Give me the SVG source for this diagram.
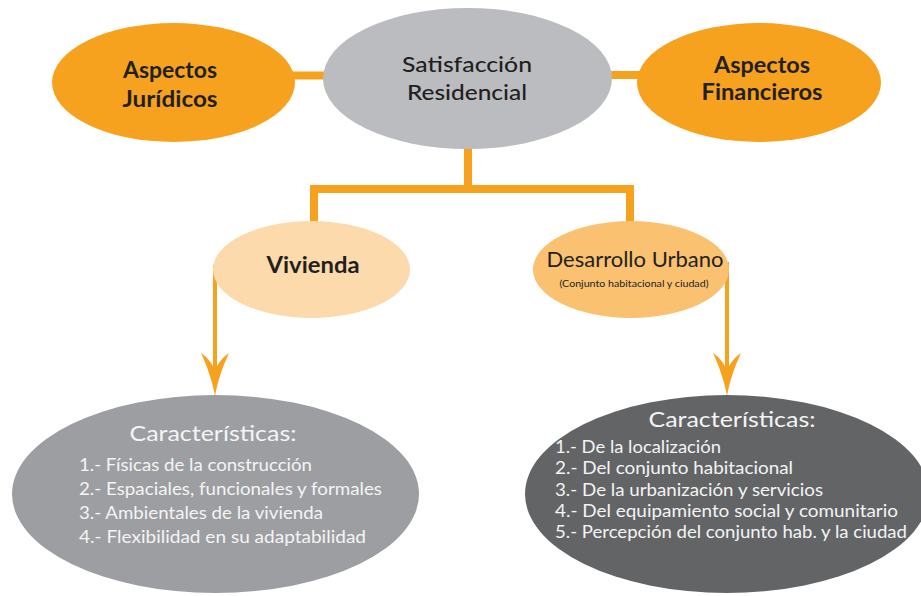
<svg xmlns="http://www.w3.org/2000/svg" xmlns:xlink="http://www.w3.org/1999/xlink" width="921" height="596" viewBox="0 0 921 596">
<defs>
<style>
.conn{stroke:#f6a21e;fill:none}
.thick{stroke-width:8}
.thin{stroke-width:4}
.head{fill:#f6a21e}
.dark{fill:#231f20;font-family:Lato,"Open Sans",sans-serif}
.bold{font-weight:bold;font-size:22px}
.white{fill:#f4f4f4;font-family:Lato,"Open Sans",sans-serif}
.title{font-size:22px}
.item{font-size:17px}
</style>
<path id="ah" d="M0,0 C-3,-16 -8,-30 -14,-43 C-7,-38 -3,-33 0,-25 C3,-33 7,-38 14,-43 C8,-30 3,-16 0,0 Z"/>
</defs>
<rect width="921" height="596" fill="#ffffff"/>

<g id="connectors">
<line class="conn thick" x1="290" y1="75.5" x2="330" y2="75.5"/>
<line class="conn thick" x1="605" y1="75" x2="642" y2="75"/>
<polyline class="conn thick" points="468,140 468,189"/>
<polyline class="conn thick" points="314,226 314,189 630,189 630,226"/>
<line class="conn thin" x1="215" y1="265" x2="215" y2="375"/>
<line class="conn thin" x1="727" y1="262" x2="727" y2="375"/>
<use xlink:href="#ah" class="head" x="215" y="396"/>
<use xlink:href="#ah" class="head" x="727" y="396"/>
</g>

<g id="aspectos-juridicos">
<ellipse cx="173.5" cy="82.5" rx="121.5" ry="59.5" fill="#f6a21e"/>
<text class="dark bold" x="170" y="78" text-anchor="middle" textLength="94" lengthAdjust="spacingAndGlyphs">Aspectos</text>
<text class="dark bold" x="170" y="107" text-anchor="middle" textLength="95" lengthAdjust="spacingAndGlyphs">Jurídicos</text>
</g>

<g id="satisfaccion-residencial">
<ellipse cx="467.5" cy="78.5" rx="144.5" ry="70.5" fill="#bbbcbf"/>
<text class="dark title" x="467" y="72" text-anchor="middle" textLength="130" lengthAdjust="spacingAndGlyphs" font-weight="500">Satisfacción</text>
<text class="dark title" x="467" y="100" text-anchor="middle" textLength="120" lengthAdjust="spacingAndGlyphs" font-weight="500">Residencial</text>
</g>

<g id="aspectos-financieros">
<ellipse cx="759" cy="82.5" rx="122" ry="59.5" fill="#f6a21e"/>
<text class="dark bold" x="762" y="73" text-anchor="middle" textLength="96" lengthAdjust="spacingAndGlyphs">Aspectos</text>
<text class="dark bold" x="762" y="100" text-anchor="middle" textLength="121" lengthAdjust="spacingAndGlyphs">Financieros</text>
</g>

<g id="vivienda">
<ellipse cx="311.5" cy="269.5" rx="98.5" ry="48.5" fill="#fcdaab"/>
<text class="dark bold" x="313" y="273" text-anchor="middle" textLength="93" lengthAdjust="spacingAndGlyphs">Vivienda</text>
</g>

<g id="desarrollo-urbano">
<ellipse cx="631" cy="269.5" rx="98" ry="48.5" fill="#f9c170"/>
<text class="dark" x="635" y="267" font-size="21" text-anchor="middle" textLength="177" lengthAdjust="spacingAndGlyphs">Desarrollo Urbano</text>
<text class="dark" x="634" y="287" font-size="10" text-anchor="middle" textLength="149" lengthAdjust="spacingAndGlyphs">(Conjunto habitacional y ciudad)</text>
</g>

<g id="caracteristicas-vivienda">
<ellipse cx="215.5" cy="494" rx="203.5" ry="99" fill="#9d9ea2"/>
<text class="white title" x="213" y="441" text-anchor="middle" textLength="167" lengthAdjust="spacingAndGlyphs">Características:</text>
<text class="white item" x="79" y="471" textLength="233" lengthAdjust="spacingAndGlyphs">1.- Físicas de la construcción</text>
<text class="white item" x="79" y="495" textLength="303" lengthAdjust="spacingAndGlyphs">2.- Espaciales, funcionales y formales</text>
<text class="white item" x="79" y="519" textLength="244" lengthAdjust="spacingAndGlyphs">3.- Ambientales de la vivienda</text>
<text class="white item" x="79" y="543" textLength="287" lengthAdjust="spacingAndGlyphs">4.- Flexibilidad en su adaptabilidad</text>
</g>

<g id="caracteristicas-desarrollo">
<ellipse cx="727" cy="494" rx="202" ry="99" fill="#636466"/>
<text class="white title" x="732" y="427" text-anchor="middle" textLength="167" lengthAdjust="spacingAndGlyphs">Características:</text>
<text class="white item" x="555" y="453" textLength="166" lengthAdjust="spacingAndGlyphs">1.- De la localización</text>
<text class="white item" x="555" y="474" textLength="238" lengthAdjust="spacingAndGlyphs">2.- Del conjunto habitacional</text>
<text class="white item" x="555" y="496" textLength="268" lengthAdjust="spacingAndGlyphs">3.- De la urbanización y servicios</text>
<text class="white item" x="555" y="517" textLength="343" lengthAdjust="spacingAndGlyphs">4.- Del equipamiento social y comunitario</text>
<text class="white item" x="555" y="538" textLength="352" lengthAdjust="spacingAndGlyphs">5.- Percepción del conjunto hab. y la ciudad</text>
</g>
</svg>
